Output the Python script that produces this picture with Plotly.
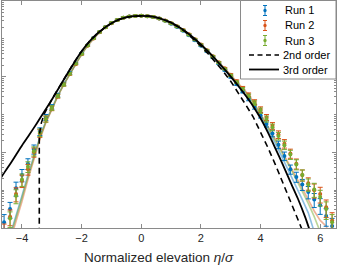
import plotly.graph_objects as go

# ---------------- data (pdf values given as log10) ----------------
eta = [-4.6, -4.4, -4.2, -4.0, -3.8, -3.6, -3.4, -3.2, -3.0, -2.8, -2.6, -2.4, -2.2, -2.0,
       -1.8, -1.6, -1.4, -1.2, -1.0, -0.8, -0.6, -0.4, -0.2, 0.0, 0.2, 0.4, 0.6, 0.8, 1.0,
       1.2, 1.4, 1.6, 1.8, 2.0, 2.2, 2.4, 2.6, 2.8, 3.0, 3.2, 3.4, 3.6, 3.8, 4.0, 4.2, 4.4,
       4.6, 4.8, 5.0, 5.2, 5.4, 5.6, 5.8, 6.0, 6.2, 6.4]

run1_log10 = [-5.85, -5.5, -4.95, -4.6, -4.3, -3.92, -3.45, -3.08, -2.8, -2.49, -2.19, -1.91,
              -1.65, -1.39, -1.17, -0.98, -0.82, -0.69, -0.58, -0.5, -0.44, -0.41, -0.395,
              -0.39, -0.4, -0.425, -0.465, -0.525, -0.6, -0.685, -0.785, -0.905, -1.04, -1.18,
              -1.33, -1.49, -1.66, -1.83, -2.01, -2.2, -2.39, -2.59, -2.8, -3.02, -3.25, -3.5,
              -3.8, -4.1, -4.45, -4.65, -4.85, -5.05, -5.25, -5.4, -5.68, -5.95]
run2_log10 = [-6.1, -5.7, -5.1, -4.75, -4.45, -4.0, -3.5, -3.12, -2.84, -2.52, -2.21, -1.93,
              -1.67, -1.41, -1.18, -0.99, -0.825, -0.695, -0.585, -0.505, -0.445, -0.41, -0.395,
              -0.39, -0.4, -0.42, -0.46, -0.515, -0.585, -0.67, -0.765, -0.88, -1.01, -1.15,
              -1.3, -1.46, -1.62, -1.78, -1.95, -2.12, -2.3, -2.48, -2.67, -2.87, -3.08, -3.3,
              -3.53, -3.77, -4.03, -4.3, -4.6, -4.82, -5.0, -5.1, -5.45, -5.8]
run3_log10 = [None, -5.75, -5.15, -4.72, -4.38, -3.97, -3.48, -3.12, -2.83, -2.51, -2.21, -1.92,
              -1.66, -1.4, -1.175, -0.985, -0.822, -0.692, -0.582, -0.502, -0.442, -0.41, -0.395,
              -0.39, -0.4, -0.422, -0.462, -0.52, -0.59, -0.675, -0.772, -0.89, -1.02, -1.16,
              -1.31, -1.47, -1.63, -1.8, -1.97, -2.15, -2.33, -2.51, -2.7, -2.9, -3.12, -3.34,
              -3.57, -3.81, -4.06, -4.32, -4.6, -4.85, -4.98, -5.18, -5.5, -5.85]
rel_err = [0.6, 0.5, 0.45, 0.4, 0.35, 0.3, 0.25, 0.2, 0.15, 0.12, 0.1, 0.08,
           0.05, 0.05, 0.05, 0.05, 0.05, 0.05, 0.05, 0.05, 0.05, 0.05, 0.05,
           0.05, 0.05, 0.05, 0.05, 0.05, 0.05, 0.05, 0.05, 0.05, 0.05, 0.05, 0.05, 0.05, 0.05, 0.05,
           0.07, 0.08, 0.1, 0.12, 0.15, 0.18, 0.2, 0.22, 0.25, 0.28, 0.3, 0.33, 0.36, 0.4,
           0.45, 0.5, 0.55, 0.6]

model1_log10 = [None, -6.2, -5.7, -5.15, -4.6, -4.08, -3.6, -3.18, -2.83, -2.5, -2.2, -1.92,
                -1.66, -1.4, -1.17, -0.98, -0.82, -0.69, -0.58, -0.5, -0.44, -0.41, -0.395,
                -0.39, -0.4, -0.425, -0.465, -0.525, -0.6, -0.685, -0.785, -0.905, -1.04, -1.18,
                -1.33, -1.49, -1.66, -1.83, -2.01, -2.2, -2.39, -2.59, -2.8, -3.05, -3.32, -3.62,
                -3.93, -4.25, -4.58, -4.9, -5.25, -5.6, -6.1, None, None, None]
model2_log10 = [None, -6.35, -5.85, -5.3, -4.72, -4.18, -3.66, -3.22, -2.86, -2.52, -2.21, -1.93,
                -1.67, -1.41, -1.18, -0.99, -0.825, -0.695, -0.585, -0.505, -0.445, -0.41, -0.395,
                -0.39, -0.4, -0.42, -0.46, -0.515, -0.585, -0.67, -0.765, -0.88, -1.01, -1.15,
                -1.3, -1.46, -1.62, -1.78, -1.95, -2.12, -2.3, -2.48, -2.72, -2.98, -3.24, -3.52,
                -3.8, -4.08, -4.38, -4.66, -4.95, -5.25, -5.55, -5.8, -5.95, -6.4]
model3_log10 = [None, -6.25, -5.75, -5.2, -4.65, -4.12, -3.63, -3.2, -2.84, -2.51, -2.21, -1.92,
                -1.66, -1.4, -1.175, -0.985, -0.822, -0.692, -0.582, -0.502, -0.442, -0.41, -0.395,
                -0.39, -0.4, -0.422, -0.462, -0.52, -0.59, -0.675, -0.772, -0.89, -1.02, -1.16,
                -1.31, -1.47, -1.63, -1.8, -1.97, -2.15, -2.33, -2.51, -2.75, -3.0, -3.27, -3.55,
                -3.84, -4.12, -4.42, -4.72, -5.02, -5.35, -5.7, -6.1, None, None]

eta_2nd = [-3.42, -3.42, -3.35, -3.25, -3.0, -2.75, -2.5, -2.25, -2.0, -1.75, -1.5, -1.25, -1.0,
           -0.75, -0.5, -0.25, 0.0, 0.25, 0.5, 0.75, 1.0, 1.25, 1.5, 1.75, 2.0, 2.25, 2.5, 2.75,
           3.0, 3.25, 3.5, 3.75, 4.0, 4.25, 4.5, 4.75, 5.0, 5.25, 5.5]
second_log10 = [-8.0, -3.55, -3.22, -2.98, -2.6, -2.27, -1.94, -1.62, -1.33, -1.08, -0.88, -0.72,
                -0.59, -0.49, -0.43, -0.40, -0.395, -0.40, -0.43, -0.49, -0.575, -0.69, -0.83,
                -1.0, -1.19, -1.4, -1.62, -1.86, -2.12, -2.42, -2.74, -3.06, -3.45, -3.88, -4.33,
                -4.8, -5.28, -5.76, -6.25]

eta_3rd = [-4.75, -4.5, -4.25, -4.0, -3.75, -3.5, -3.25, -3.0, -2.75, -2.5, -2.25, -2.0, -1.75,
           -1.5, -1.25, -1.0, -0.75, -0.5, -0.25, 0.0, 0.25, 0.5, 0.75, 1.0, 1.25, 1.5, 1.75,
           2.0, 2.25, 2.5, 2.75, 3.0, 3.25, 3.5, 3.75, 4.0, 4.25, 4.5, 4.75, 5.0, 5.25, 5.5, 5.75]
third_log10 = [-4.72, -4.43, -4.13, -3.82, -3.53, -3.23, -2.92, -2.61, -2.28, -1.95, -1.63, -1.33,
               -1.08, -0.88, -0.72, -0.59, -0.49, -0.43, -0.40, -0.395, -0.40, -0.43, -0.49,
               -0.57, -0.68, -0.81, -0.97, -1.15, -1.34, -1.55, -1.77, -2.0, -2.24, -2.5, -2.78,
               -3.1, -3.48, -3.9, -4.33, -4.78, -5.22, -5.72, -6.3]

x_ticks = [-4, -2, 0, 2, 4, 6]
run_names = ["Run 1", "Run 2", "Run 3"]
line_names = ["2nd order", "3rd order"]


def to_pdf(vals):
    return [None if v is None else 10 ** v for v in vals]


FONT = "Liberation Sans, Arial, Helvetica, sans-serif"
AX = "#8a8a8a"
W, H = 338, 265
ML, MR, MT, MB = 2, 2, 1, 37

fig = go.Figure()

model_colors = ["rgba(0,114,189,0.45)", "rgba(217,83,25,0.45)", "rgba(119,172,48,0.5)"]
for vals, col in zip([model1_log10, model2_log10, model3_log10], model_colors):
    fig.add_trace(go.Scatter(x=eta, y=to_pdf(vals), mode="lines", showlegend=False,
                             line=dict(color=col, width=1.6), hoverinfo="skip"))

run_colors = ["#0072BD", "#D95319", "#77AC30"]
for name, vals, col in zip(run_names, [run1_log10, run2_log10, run3_log10], run_colors):
    p = to_pdf(vals)
    err = [0 if v is None else v * f for v, f in zip(p, rel_err)]
    fig.add_trace(go.Scatter(
        x=eta, y=p, mode="markers", name=name,
        marker=dict(color=col, size=4),
        error_y=dict(type="data", array=err, arrayminus=[e * 0.85 for e in err],
                     color=col, thickness=1, width=2.5)))

fig.add_trace(go.Scatter(x=eta_2nd, y=to_pdf(second_log10), mode="lines", name=line_names[0],
                         line=dict(color="black", width=1.6, dash="6px,4px")))
fig.add_trace(go.Scatter(x=eta_3rd, y=to_pdf(third_log10), mode="lines", name=line_names[1],
                         line=dict(color="black", width=1.8, shape="spline", smoothing=0.6)))

# invisible helper trace so the major-tick overlay axis is drawn
fig.add_trace(go.Scatter(x=[0], y=[0.4], yaxis="y2", mode="markers", showlegend=False,
                         marker=dict(opacity=0), hoverinfo="skip"))

minor_vals = [m * 10 ** k for k in range(-6, 0) for m in range(1, 10)]


# ---------- hand-drawn MATLAB-style legend (paper coordinates from pixels) ----------
def px(x):
    return (x - ML) / (W - ML - MR)


def py(y):
    return (H - MB - y) / (H - MB - MT)


shapes = [dict(type="rect", xref="paper", yref="paper", x0=px(240.5), x1=px(336),
               y0=py(79), y1=py(0.5), fillcolor="white", line=dict(color=AX, width=1),
               layer="above")]
annotations = []
row_y = [10.5, 25.5, 40.5, 55, 69.5]
for i, (name, col) in enumerate(zip(run_names, run_colors)):
    yc = row_y[i]
    shapes.append(dict(type="line", xref="paper", yref="paper", x0=px(265), x1=px(265),
                       y0=py(yc - 5), y1=py(yc + 5), line=dict(color=col, width=1)))
    for dy in (-5, 5):
        shapes.append(dict(type="line", xref="paper", yref="paper", x0=px(263), x1=px(267),
                           y0=py(yc + dy), y1=py(yc + dy), line=dict(color=col, width=1)))
    shapes.append(dict(type="circle", xref="paper", yref="paper", x0=px(263.3), x1=px(266.7),
                       y0=py(yc + 1.7), y1=py(yc - 1.7), fillcolor=col,
                       line=dict(color=col, width=0)))
    annotations.append(dict(text=name, xref="paper", yref="paper", x=px(283), y=py(yc),
                            xanchor="left", yanchor="middle", showarrow=False,
                            font=dict(size=11, color="black", family=FONT)))
for j, (name, dash, lw) in enumerate(zip(line_names, ["5px,3.5px", "solid"], [1.6, 1.8])):
    yc = row_y[3 + j]
    shapes.append(dict(type="line", xref="paper", yref="paper", x0=px(249), x1=px(279),
                       y0=py(yc), y1=py(yc), line=dict(color="black", width=lw, dash=dash)))
    annotations.append(dict(text=name, xref="paper", yref="paper", x=px(281), y=py(yc),
                            xanchor="left", yanchor="middle", showarrow=False,
                            font=dict(size=11, color="black", family=FONT)))

# x-axis title (as in reference, slightly left of the plot centre)
annotations.append(dict(text="Normalized elevation <i>η</i>/<i>σ</i>", xref="paper",
                        yref="paper", x=px(159), y=py(257), xanchor="center",
                        yanchor="middle", showarrow=False,
                        font=dict(size=13.5, color="#262626", family=FONT)))

fig.update_layout(
    width=W, height=H,
    margin=dict(l=ML, r=MR, t=MT, b=MB, autoexpand=False),
    paper_bgcolor="white", plot_bgcolor="white",
    font=dict(family=FONT, size=11, color="#262626"),
    showlegend=False,
    shapes=shapes,
    annotations=annotations,
    xaxis=dict(range=[-4.67, 6.53], tickvals=x_ticks, ticks="inside", ticklen=4,
               tickcolor=AX, showline=True, linecolor=AX, linewidth=1, mirror="ticks",
               showgrid=False, zeroline=False, automargin=False,
               tickfont=dict(size=11, color="#262626")),
    yaxis=dict(type="log", range=[-6, 0], tickvals=minor_vals, ticks="inside", ticklen=2,
               tickcolor=AX, showticklabels=False, showline=True, linecolor=AX,
               linewidth=1, mirror="ticks", showgrid=False, zeroline=False, automargin=False),
    yaxis2=dict(type="log", range=[-6, 0], overlaying="y", tickvals=[1e-6, 1e-4, 1e-2, 1],
                ticks="inside", ticklen=4, tickcolor=AX, showticklabels=False,
                showline=False, showgrid=False, zeroline=False, mirror="ticks",
                automargin=False),
)

fig.write_html("out.html", config={"displayModeBar": False},
               post_script="document.body.style.margin='0';document.body.style.overflow='hidden';")
